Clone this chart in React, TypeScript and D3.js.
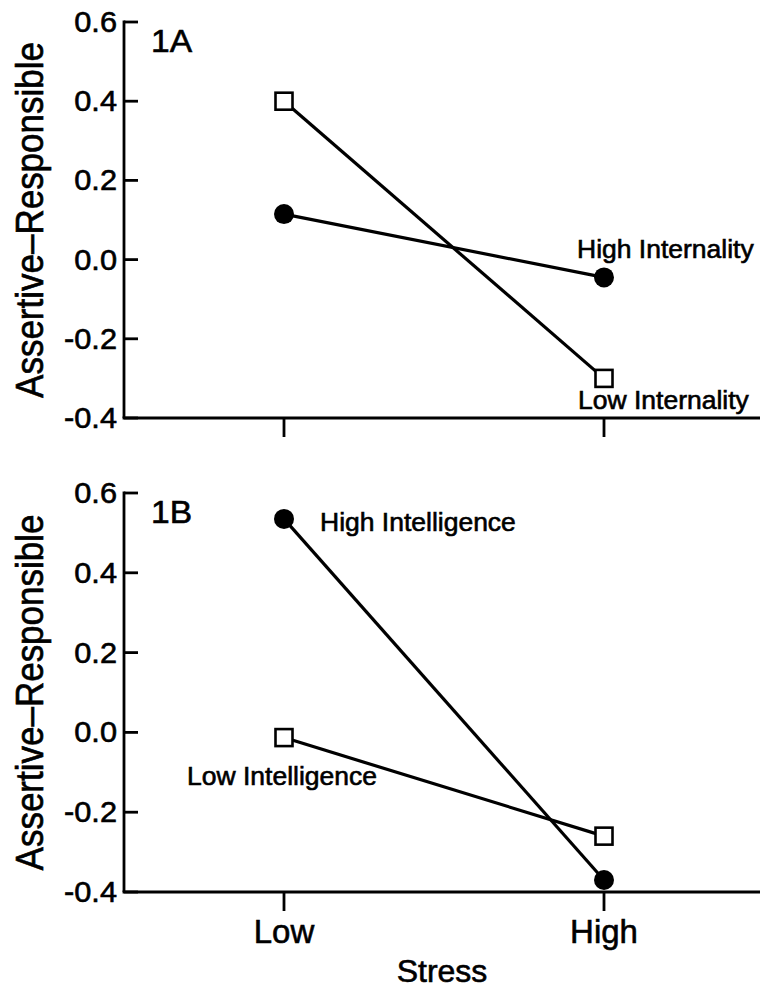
import React from "react";
import * as d3 from "d3";

const stressLevels = ["Low", "High"];
const yTicks = [-0.4, -0.2, 0.0, 0.2, 0.4, 0.6];
const lowInternality = [0.4, -0.3];
const highInternality = [0.115, -0.045];
const highIntelligence = [0.535, -0.37];
const lowIntelligence = [-0.013, -0.26];

const W = 760;
const H = 990;
const FONT = "'Liberation Sans', Arial, Helvetica, sans-serif";
const TS = { stroke: "#000", strokeWidth: 0.6 };

const x = d3.scalePoint<string>().domain(stressLevels).range([124, 764]).padding(0.5);

type Series = { values: number[]; marker: "circle" | "square" };

function Panel({
  top,
  bottom,
  tag,
  series,
  labels,
  showXLabels,
}: {
  top: number;
  bottom: number;
  tag: string;
  series: Series[];
  labels: { text: string; x: number; y: number }[];
  showXLabels: boolean;
}) {
  const y = d3.scaleLinear().domain([-0.4, 0.6]).range([bottom, top]);
  const axisX = 124;
  const line = d3
    .line<number>()
    .x((_, i) => x(stressLevels[i]) as number)
    .y((d) => y(d));
  const mid = (top + bottom) / 2;
  return (
    <g>
      <line x1={axisX} x2={axisX} y1={y(0.6) - 1.4} y2={y(-0.4)} stroke="#000" strokeWidth={2.8} />
      {yTicks.map((t) => (
        <g key={t}>
          <line x1={axisX} x2={axisX + 14} y1={y(t)} y2={y(t)} stroke="#000" strokeWidth={2.8} />
          <text
            transform={`translate(117,${y(t) + 10}) scale(1.06,1)`}
            textAnchor="end"
            fontFamily={FONT}
            fontSize={29}
            fill="#000"
            {...TS}
          >
            {t.toFixed(1)}
          </text>
        </g>
      ))}
      <line x1={axisX - 1.4} x2={W} y1={y(-0.4)} y2={y(-0.4)} stroke="#000" strokeWidth={2.8} />
      {stressLevels.map((s) => (
        <g key={s}>
          <line
            x1={x(s) as number}
            x2={x(s) as number}
            y1={y(-0.4)}
            y2={y(-0.4) + 19}
            stroke="#000"
            strokeWidth={2.8}
          />
          {showXLabels && (
            <text
              x={x(s) as number}
              y={y(-0.4) + 51}
              textAnchor="middle"
              fontFamily={FONT}
              fontSize={33}
              fill="#000"
              {...TS}
            >
              {s}
            </text>
          )}
        </g>
      ))}
      <text
        transform={`translate(43,${mid}) rotate(-90) scale(1,1.1)`}
        textAnchor="middle"
        fontFamily={FONT}
        fontSize={35}
        fill="#000"
        {...TS}
      >
        Assertive–Responsible
      </text>
      <text
        transform={`translate(151,${top + 30}) scale(1.05,1)`}
        fontFamily={FONT}
        fontSize={32}
        fill="#000"
        {...TS}
      >
        {tag}
      </text>
      {series.map((s, i) => (
        <g key={i}>
          <path d={line(s.values) || ""} fill="none" stroke="#000" strokeWidth={3.2} />
          {s.values.map((v, j) => {
            const cx = x(stressLevels[j]) as number;
            const cy = y(v);
            return s.marker === "circle" ? (
              <circle key={j} cx={cx} cy={cy} r={10} fill="#000" />
            ) : (
              <rect
                key={j}
                x={cx - 8.5}
                y={cy - 8.5}
                width={17}
                height={17}
                fill="#fff"
                stroke="#000"
                strokeWidth={2.6}
              />
            );
          })}
        </g>
      ))}
      {labels.map((l) => (
        <text
          key={l.text}
          transform={`translate(${l.x},${l.y}) scale(1.06,1)`}
          fontFamily={FONT}
          fontSize={25}
          fill="#000"
          {...TS}
        >
          {l.text}
        </text>
      ))}
    </g>
  );
}

export default function App() {
  return (
    <svg
      width={W}
      height={H}
      viewBox={`0 0 ${W} ${H}`}
      style={{ position: "absolute", left: 0, top: 0, background: "#fff" }}
    >
      <rect x={0} y={0} width={W} height={H} fill="#fff" />
      <Panel
        top={22}
        bottom={418}
        tag="1A"
        series={[
          { values: lowInternality, marker: "square" },
          { values: highInternality, marker: "circle" },
        ]}
        labels={[
          { text: "High Internality", x: 577, y: 258 },
          { text: "Low Internality", x: 578, y: 409 },
        ]}
        showXLabels={false}
      />
      <Panel
        top={493}
        bottom={892}
        tag="1B"
        series={[
          { values: lowIntelligence, marker: "square" },
          { values: highIntelligence, marker: "circle" },
        ]}
        labels={[
          { text: "High Intelligence", x: 320, y: 531 },
          { text: "Low Intelligence", x: 187, y: 785 },
        ]}
        showXLabels={true}
      />
      <text x={442} y={982} textAnchor="middle" fontFamily={FONT} fontSize={32} fill="#000" {...TS}>
        Stress
      </text>
    </svg>
  );
}
